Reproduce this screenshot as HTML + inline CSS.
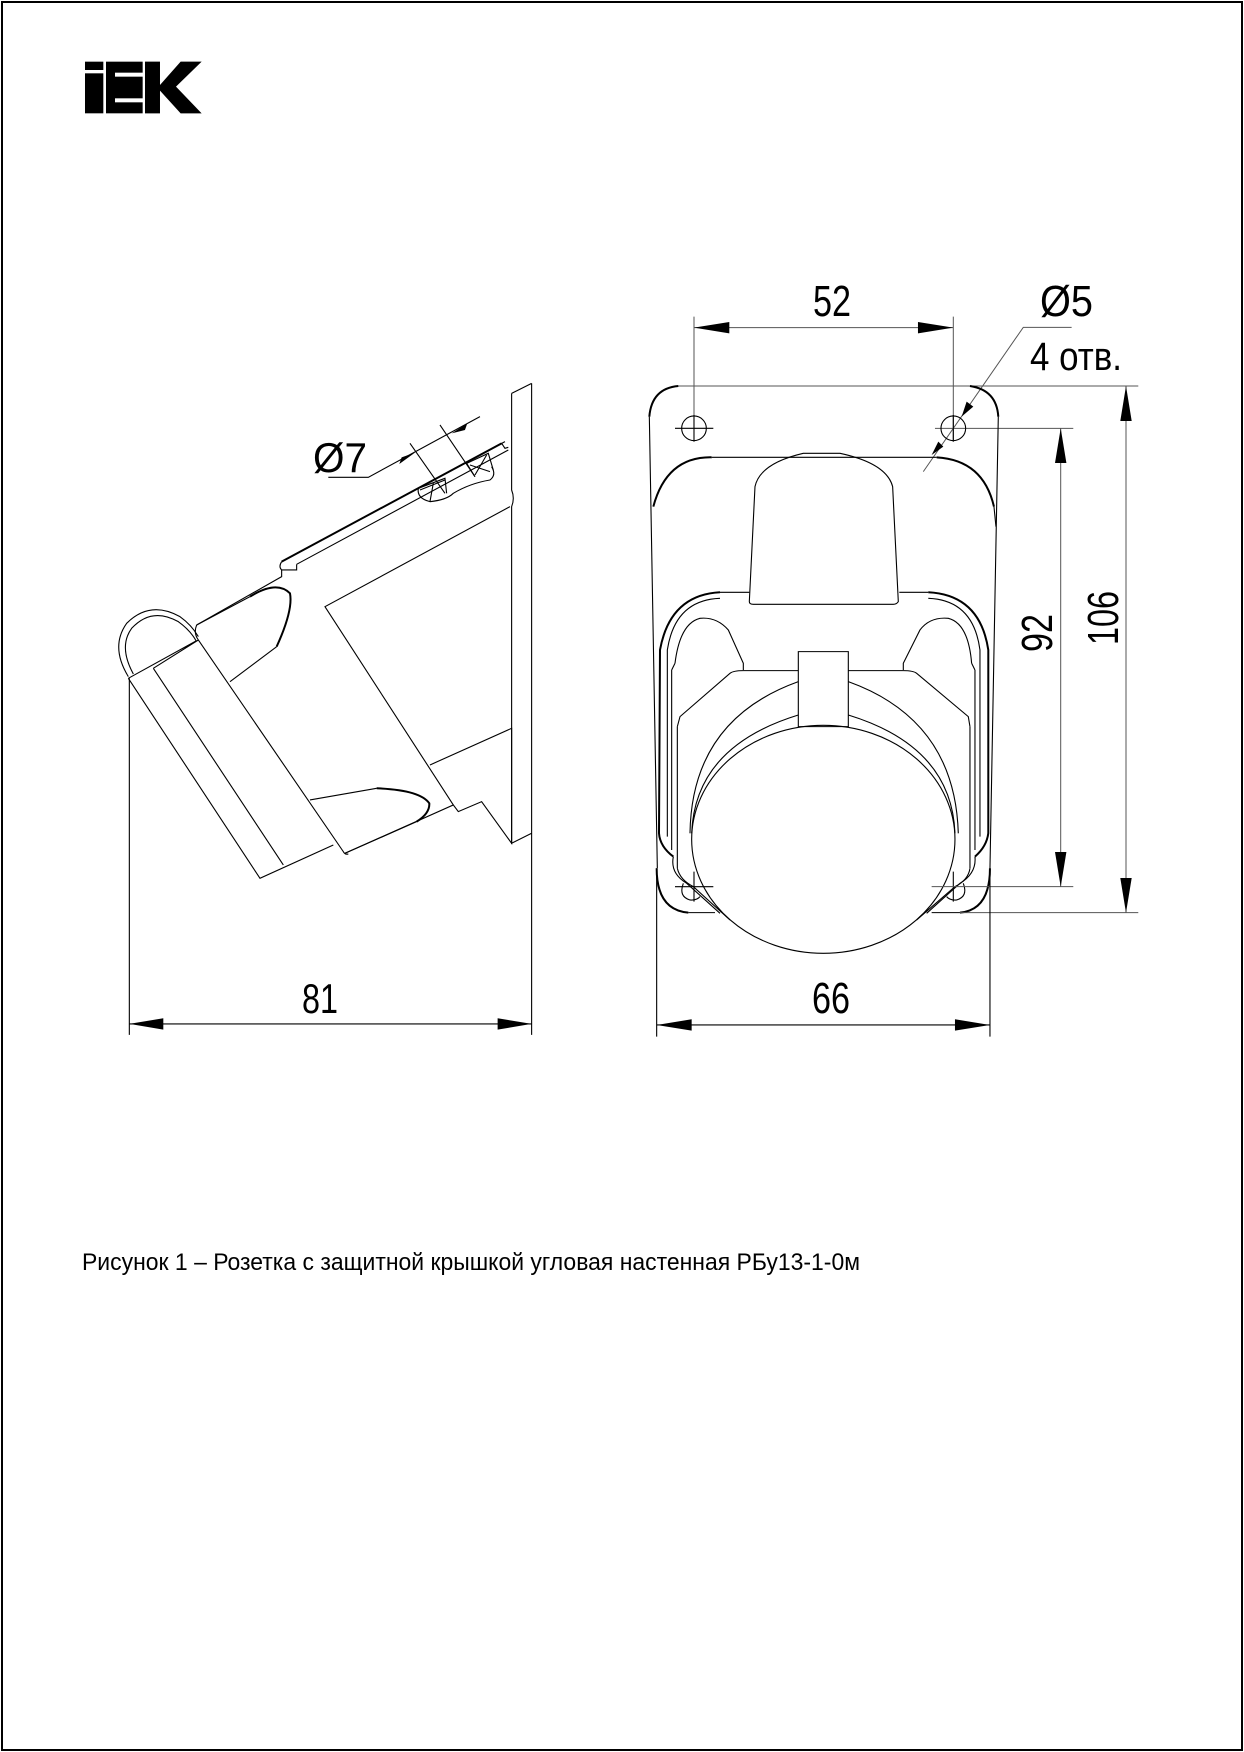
<!DOCTYPE html>
<html><head><meta charset="utf-8"><style>
html,body{margin:0;padding:0;background:#fff}
svg{display:block}
text{font-family:"Liberation Sans Narrow","Liberation Sans",sans-serif;fill:#000}
.s{fill:none;stroke:#000;stroke-width:1.1;vector-effect:non-scaling-stroke}
.t{fill:none;stroke:#000;stroke-width:2;vector-effect:non-scaling-stroke}
.g{fill:none;stroke:#555;stroke-width:1;vector-effect:non-scaling-stroke}
</style></head><body>
<svg width="1244" height="1752" viewBox="0 0 1244 1752" xmlns="http://www.w3.org/2000/svg">
<rect x="2" y="2" width="1240" height="1748" fill="none" stroke="#000" stroke-width="2"/>
<!-- logo -->
<g transform="translate(60,40) scale(0.3333)" fill="#000">
<rect x="75" y="65" width="55" height="25"/>
<rect x="75" y="100" width="55" height="120"/>
<rect x="138" y="65" width="110" height="155"/>
<rect x="165" y="98" width="85" height="12" fill="#fff"/>
<rect x="165" y="175" width="85" height="12" fill="#fff"/>
<polygon points="255,65 300,65 300,135 362,65 425,65 348,140 425,220 362,220 300,152 300,220 255,220"/>
</g>

<!-- LEFT VIEW -->
<g transform="translate(100,370) scale(0.3333)">
<path class="s" d="M1295,40 L1295,1995 M1235,70 L1295,40 M1235,70 L1235,360 Q1245,385 1235,410 L1235,1420 L1295,1390"/>
<!-- cover top -->
<path class="t" d="M545,575 L1205,220"/>
<path class="s" d="M1205,220 L1215,235 L1225,232 M590,583 L1225,240 M545,575 Q535,590 545,600 L590,600 L590,583"/>
<path class="s" d="M545,600 L545,620 L290,765"/>
<path class="s" d="M1230,410 L675,710 L1060,1305"/>
<path class="s" d="M990,1185 L1235,1075 L1235,1420 L1145,1295 L1075,1325 L1060,1305 L735,1450"/>
<!-- ear top -->
<path class="s" d="M290,765 L450,680"/>
<path class="t" d="M450,680 Q530,630 570,670 Q580,720 530,830"/>
<path class="s" d="M530,830 L390,935"/>
<!-- cap -->
<path class="s" d="M85,925 L290,812 M290,765 Q280,790 295,810 L730,1445 Q735,1455 745,1452 M85,925 L480,1525 L700,1425 M160,895 L550,1485 M295,810 L160,895"/>
<path class="s" d="M630,1290 L830,1255"/>
<path class="t" d="M830,1255 Q960,1260 988,1300 Q990,1330 950,1355"/>
<path class="s" d="M950,1355 L735,1450"/>
<!-- handle -->
<path class="s" d="M85,920 Q30,830 80,760 Q150,690 240,740 Q275,765 295,800"/>
<path class="s" d="M100,912 Q55,830 95,775 Q155,710 235,755 Q270,780 288,812"/>
<!-- hole -->
<path class="s" d="M955,355 L1215,215 M955,355 Q950,385 990,395 Q1040,390 1060,370 Q1110,340 1170,330 Q1190,315 1175,290"/>
<path class="s" d="M955,355 L1035,325 L1040,370 M960,360 L1035,330 M990,395 L1000,340 M1100,280 L1125,320 M1100,280 L1165,250 L1180,300 M1110,285 L1170,305 M1160,255 L1125,315"/>
<!-- dim 7 -->
<path class="s" d="M685,322 L805,322 L1140,140 M930,220 L1035,370 M1020,165 L1125,320"/>
<polygon points="945,248 898,282 905,262" fill="#000"/>
<polygon points="1055,190 1102,160 1095,180" fill="#000"/>
<!-- dim 81 -->
<path class="s" d="M88,925 L88,1995 M88,1962 L1295,1962"/>
<polygon points="88,1962 190,1945 190,1979" fill="#000"/>
<polygon points="1295,1962 1193,1945 1193,1979" fill="#000"/>
</g>
<text x="313" y="472" font-size="42" textLength="54" lengthAdjust="spacingAndGlyphs">Ø7</text>
<text x="302" y="1013" font-size="42" textLength="36" lengthAdjust="spacingAndGlyphs">81</text>

<!-- RIGHT VIEW top -->
<g transform="translate(640,270) scale(0.3333)">
<path class="g" d="M162,140 L162,515 M940,140 L940,515 M162,173 L940,173"/>
<polygon points="162,173 268,156 268,190" fill="#000"/>
<polygon points="940,173 834,156 834,190" fill="#000"/>
<path class="g" d="M1295,172 L1150,172 L850,605"/>
<polygon points="965,440 980,395 1000,410" fill="#000"/>
<polygon points="875,555 895,515 910,530" fill="#000"/>
<path class="g" d="M115,348 L1495,348 M885,475 L1300,475"/>
<path class="t" d="M115,348 Q35,355 28,440 M990,348 Q1070,360 1075,440"/>
<path class="s" d="M28,440 L52,1795 M1075,440 L1050,1795"/>
<circle class="s" cx="162" cy="475" r="37"/><circle class="s" cx="940" cy="475" r="37"/>
<path class="s" d="M105,475 L220,475 M162,435 L162,515 M940,435 L940,515"/>
<path class="s" d="M215,562 L890,562"/>
<path class="t" d="M215,562 Q80,560 40,710 M890,562 Q1030,570 1062,710"/>
<path class="s" d="M1062,710 L1068,770"/>
<path class="s" d="M328,995 L345,650 Q360,580 490,550 L600,550 Q740,580 758,650 L775,995 Q770,1003 760,1003 L340,1003 Q328,1003 328,995"/>
<path class="s" d="M240,967 L328,967 M778,967 L865,967"/>
<!-- frames -->
<path class="t" d="M240,967 Q90,975 60,1140 L57,1690 Q60,1730 100,1760"/>
<path class="t" d="M865,967 Q1020,975 1045,1140 L1045,1690 Q1040,1730 1005,1760"/>
<path class="s" d="M240,985 Q105,990 82,1140 L82,1700 M865,985 Q1000,990 1020,1140 L1020,1700"/>
<path class="s" d="M105,1180 Q120,1060 180,1045 Q230,1040 265,1080 L310,1180 L310,1200 M995,1180 Q985,1060 925,1045 Q870,1040 840,1080 L790,1180 L790,1200"/>
<path class="s" d="M95,1200 L105,1180 M1005,1200 L995,1180 M95,1200 L95,1740 M1005,1200 L1005,1740"/>
<rect class="s" x="475" y="1145" width="150" height="225"/>
<path class="s" d="M310,1202 L475,1202 M625,1202 L790,1202 M310,1202 Q280,1202 270,1210 L120,1340 L112,1370 M790,1202 Q820,1202 830,1210 L985,1340 L990,1370"/>
</g>
<!-- RIGHT VIEW bottom -->
<g transform="translate(640,620) scale(0.3333)">
<path class="s" d="M112,320 L112,745 M990,320 L990,745"/>
<path class="s" d="M150,640 Q155,300 475,185 M625,185 Q945,300 955,640"/>
<path class="s" d="M155,640 Q165,380 475,285 M625,285 Q935,380 945,640"/>
<ellipse class="s" cx="550" cy="658" rx="395" ry="342"/>
<path class="s" d="M112,745 Q120,780 160,800 L270,900 M990,745 Q985,780 945,800 L830,900"/>
<path class="t" d="M50,745 Q50,870 145,878 M1050,745 Q1050,870 960,878"/>
<path class="s" d="M145,878 L225,878 M875,878 L960,878"/>
<path class="s" d="M100,710 Q90,760 140,790 L240,880 M1005,710 Q1010,760 960,790 L860,880"/>
<path class="s" d="M105,800 L220,800 M162,755 L162,845 M940,755 L940,845"/>
<path class="s" d="M130,790 Q115,830 150,840 Q170,842 180,830 M970,790 Q985,830 950,840 Q930,842 920,830"/>
<path class="g" d="M875,800 L1300,800 M960,878 L1495,878"/>
<!-- dim 66 -->
<path class="s" d="M50,745 L50,1250 M1050,745 L1050,1250 M50,1215 L1050,1215"/>
<polygon points="50,1215 155,1198 155,1232" fill="#000"/>
<polygon points="1050,1215 945,1198 945,1232" fill="#000"/>
</g>
<!-- vertical dims (real coords) -->
<path class="g" d="M1060.7,428.3 L1060.7,886.7 M1126,386 L1126,912.7"/>
<polygon points="1060.7,428.3 1055,463 1066.4,463" fill="#000"/>
<polygon points="1060.7,886.7 1055,852 1066.4,852" fill="#000"/>
<polygon points="1126,386 1120.3,421 1131.7,421" fill="#000"/>
<polygon points="1126,912.7 1120.3,878 1131.7,878" fill="#000"/>

<text x="813" y="316" font-size="44" textLength="38" lengthAdjust="spacingAndGlyphs">52</text>
<text x="1040" y="316" font-size="44" textLength="53" lengthAdjust="spacingAndGlyphs">Ø5</text>
<text x="1030" y="370" font-size="40" textLength="92" lengthAdjust="spacingAndGlyphs">4 отв.</text>
<text x="812" y="1013" font-size="44" textLength="38" lengthAdjust="spacingAndGlyphs">66</text>
<text transform="translate(1052,652) rotate(-90)" font-size="44" textLength="38" lengthAdjust="spacingAndGlyphs">92</text>
<text transform="translate(1118,645) rotate(-90)" font-size="44" textLength="54" lengthAdjust="spacingAndGlyphs">106</text>

<text x="82" y="1270" font-size="24" textLength="778" lengthAdjust="spacingAndGlyphs">Рисунок 1 – Розетка с защитной крышкой угловая настенная РБу13-1-0м</text>
</svg>
</body></html>
